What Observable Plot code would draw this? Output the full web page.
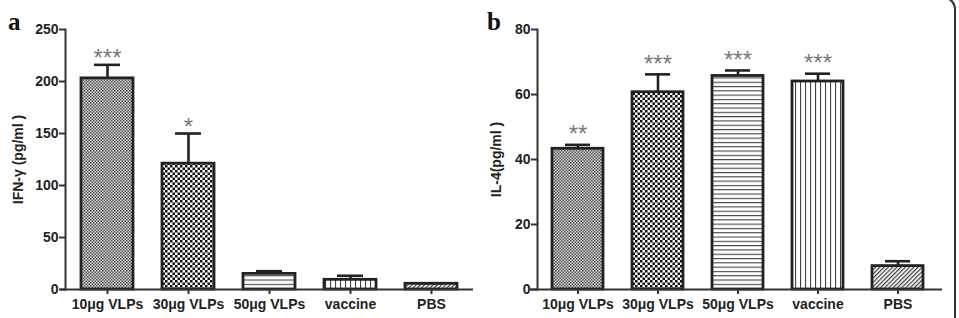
<!DOCTYPE html>
<html>
<head>
<meta charset="utf-8">
<script src="https://cdn.jsdelivr.net/npm/d3@7"></script>
<script src="https://cdn.jsdelivr.net/npm/@observablehq/plot@0.6"></script>
<style>
  html, body { margin: 0; padding: 0; background: #fff; }
  #wrap { position: relative; width: 959px; height: 318px; overflow: hidden; }
  #row { display: flex; flex-direction: row; }
  .letter { position: absolute; font-family: "Liberation Serif", "DejaVu Serif", serif; font-weight: bold; font-size: 25px; color: #111; line-height: 1; }
  #border { position: absolute; left: 935px; top: -3px; width: 19px; height: 330px; border-right: 2px solid #333; border-top: 2px solid #333; border-top-right-radius: 12px; }
</style>
</head>
<body>
<div id="wrap">
  <svg width="0" height="0" style="position:absolute">
    <defs>
      <pattern id="p10" width="3" height="3" patternUnits="userSpaceOnUse">
        <rect width="3" height="3" fill="#cfcfcf"/>
        <rect x="0" y="0" width="1.5" height="1.5" fill="#5a5a5a"/>
        <rect x="1.5" y="1.5" width="1.5" height="1.5" fill="#5a5a5a"/>
      </pattern>
      <pattern id="p30" width="5" height="5" patternUnits="userSpaceOnUse">
        <rect width="5" height="5" fill="#fff"/>
        <rect x="0" y="0" width="2.5" height="2.5" fill="#111"/>
        <rect x="2.5" y="2.5" width="2.5" height="2.5" fill="#111"/>
      </pattern>
      <pattern id="p50" width="4" height="4.3" patternUnits="userSpaceOnUse">
        <rect width="4" height="4.3" fill="#fff"/>
        <rect x="0" y="0" width="4" height="1.1" fill="#444"/>
      </pattern>
      <pattern id="pvac" width="5" height="4" patternUnits="userSpaceOnUse">
        <rect width="5" height="4" fill="#fff"/>
        <rect x="0" y="0" width="1.1" height="4" fill="#444"/>
      </pattern>
      <pattern id="ppbs" width="3" height="3" patternUnits="userSpaceOnUse" patternTransform="rotate(45)">
        <rect width="3" height="3" fill="#fff"/>
        <rect x="0" y="0" width="1.3" height="3" fill="#444"/>
      </pattern>
    </defs>
  </svg>
  <div id="row"></div>
  <div class="letter" style="left:8px; top:9px;">a</div>
  <div class="letter" style="left:487px; top:9px;">b</div>
  <div id="border"></div>
</div>
<script>
// ---- data ----
const categories = ["10μg VLPs", "30μg VLPs", "50μg VLPs", "vaccine", "PBS"];
const ifnMean = [203, 121, 15, 9.3, 5.5];
const ifnSem = [13, 29, 2.6, 3.9, 0.5];
const ifnStars = ["***", "*", "", "", ""];
const ifnTicks = [0, 50, 100, 150, 200, 250];
const il4Mean = [43.3, 60.7, 65.7, 64, 7.2];
const il4Sem = [1.2, 5.5, 1.7, 2.4, 1.5];
const il4Stars = ["**", "***", "***", "***", ""];
const il4Ticks = [0, 20, 40, 60, 80];
const patternIds = ["p10", "p30", "p50", "pvac", "ppbs"];

function panel({mean, sem, stars, ticks, yMax, label, width, marginLeft, marginRight, labelOffset, lineLeft, lineRight, starDy}) {
  const data = categories.map((c, i) => ({
    cat: c, value: mean[i], top: mean[i] + sem[i], stars: stars[i], fill: `url(#${patternIds[i]})`
  }));
  return Plot.plot({
    width, height: 318,
    marginLeft, marginRight, marginTop: 29, marginBottom: 29,
    style: {fontFamily: "'Liberation Sans', Arial, sans-serif", fontWeight: "bold", fontSize: "14px", color: "#222", background: "transparent"},
    x: {domain: categories, paddingInner: 0.36, paddingOuter: 0.18, label: null},
    y: {domain: [0, yMax], label},
    marks: [
      Plot.barY(data, {x: "cat", y: "value", fill: "fill", stroke: "#222", strokeWidth: 2.8}),
      Plot.ruleX(data, {x: "cat", y1: "value", y2: "top", stroke: "#222", strokeWidth: 2.6}),
      Plot.tickY(data, {x: "cat", y: "top", stroke: "#222", strokeWidth: 2.6, insetLeft: 13, insetRight: 13}),
      Plot.text(data, {x: "cat", y: "top", text: "stars", dy: starDy, fill: "#7a7a7a", fontSize: 24, fontWeight: "normal", lineAnchor: "middle"}),
      Plot.frame({anchor: "left", stroke: "#333", strokeWidth: 2}),
      Plot.ruleY([0], {stroke: "#333", strokeWidth: 2, insetLeft: lineLeft, insetRight: lineRight}),
      Plot.axisY({ticks, tickSize: 6, tickPadding: 1, strokeWidth: 2, stroke: "#333", label, labelAnchor: "center", labelArrow: "none", labelOffset, fontSize: 14}),
      Plot.axisX({tickSize: 5, tickPadding: 5, strokeWidth: 2, stroke: "#333", label: null, fontSize: 14})
    ]
  });
}

const row = document.getElementById("row");
row.append(panel({mean: ifnMean, sem: ifnSem, stars: ifnStars, ticks: ifnTicks, yMax: 250, label: "IFN-γ (pg/ml )",
  width: 480, marginLeft: 65, marginRight: 8, labelOffset: 52, lineLeft: -5, lineRight: -1, starDy: -6.5}));
row.append(panel({mean: il4Mean, sem: il4Sem, stars: il4Stars, ticks: il4Ticks, yMax: 80, label: "IL-4(pg/ml )",
  width: 479, marginLeft: 57, marginRight: 21, labelOffset: 46, lineLeft: -7, lineRight: -4, starDy: -10.5}));
</script>
</body>
</html>
